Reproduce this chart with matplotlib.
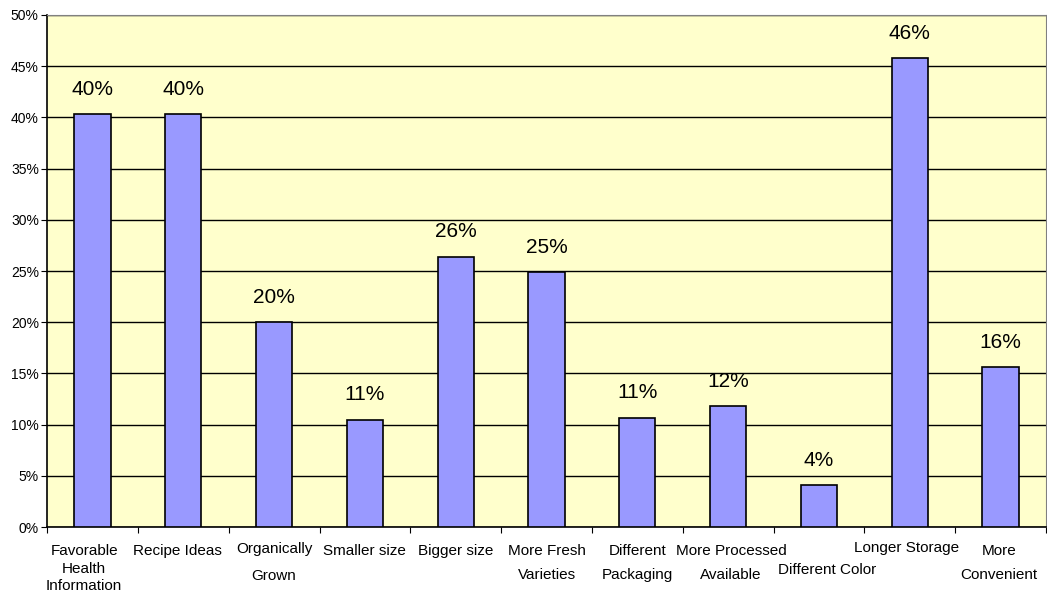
import numpy as np
import matplotlib.pyplot as plt
from matplotlib.ticker import FixedLocator, PercentFormatter

plt.rcParams['font.family'] = ['Liberation Sans', 'DejaVu Sans']

# data
categories = ["Favorable\nHealth\nInformation", "Recipe Ideas", "Organically\nGrown",
              "Smaller size", "Bigger size", "More Fresh\nVarieties", "Different\nPackaging",
              "More Processed\nAvailable", "Different Color", "Longer Storage",
              "More\nConvenient"]
values = [40.3, 40.3, 20.0, 10.5, 26.4, 24.9, 10.7, 11.8, 4.1, 45.8, 15.6]
value_labels = ["40%", "40%", "20%", "11%", "26%", "25%", "11%", "12%", "4%", "46%", "16%"]

# Excel wraps the category labels unevenly: drop of each line below the axis (pt)
line_drops = [[17.3, 30.2, 42.5], [17.3], [15.8, 35.3], [17.3], [17.3], [17.3, 34.6],
              [17.3, 34.6], [17.3, 34.6], [31.0], [15.1], [17.3, 34.6]]
label_shift = [-6, -4, 0, 0, 0, 0, 0, 2, 6, -2, -1]

fig = plt.figure(figsize=(10.47, 5.95), dpi=100)
ax = fig.add_axes([0.045, 0.114, 0.954, 0.861])
ax.set_facecolor("#FFFFCC")

x = np.arange(len(categories))
bars = ax.bar(x, values, width=0.4, color="#9999FF", edgecolor="black", linewidth=1.2, zorder=3)

for b, lab in zip(bars, value_labels):
    ax.annotate(lab, (b.get_x() + b.get_width() / 2, b.get_height()),
                xytext=(0, 11), textcoords="offset points",
                ha="center", va="bottom", fontsize=15)

ax.set_xlim(-0.5, len(categories) - 0.5)
ax.set_ylim(0, 50)
ax.yaxis.set_major_locator(FixedLocator(np.arange(0, 51, 5)))
ax.yaxis.set_major_formatter(PercentFormatter(decimals=0))
ax.grid(axis="y", color="black", linewidth=1, zorder=0)

# ticks between categories, labels drawn line by line under each bar
ax.xaxis.set_major_locator(FixedLocator(np.arange(-0.5, len(categories), 1)))
ax.xaxis.set_major_formatter(plt.NullFormatter())
for i, cat in enumerate(categories):
    for line, dy in zip(cat.split("\n"), line_drops[i]):
        ax.annotate(line, (x[i], 0), xycoords=("data", "axes fraction"),
                    xytext=(label_shift[i], -dy), textcoords="offset points",
                    ha="center", va="center", fontsize=11, annotation_clip=False)

ax.tick_params(axis="x", length=4, direction="out", color="black")
ax.tick_params(axis="y", length=4, direction="out", labelsize=10, pad=2)

for s in ["top", "right"]:
    ax.spines[s].set_color("#808080")
for s in ["left", "bottom"]:
    ax.spines[s].set_color("black")
    ax.spines[s].set_linewidth(1.2)

fig.savefig("out.png", dpi=100)
